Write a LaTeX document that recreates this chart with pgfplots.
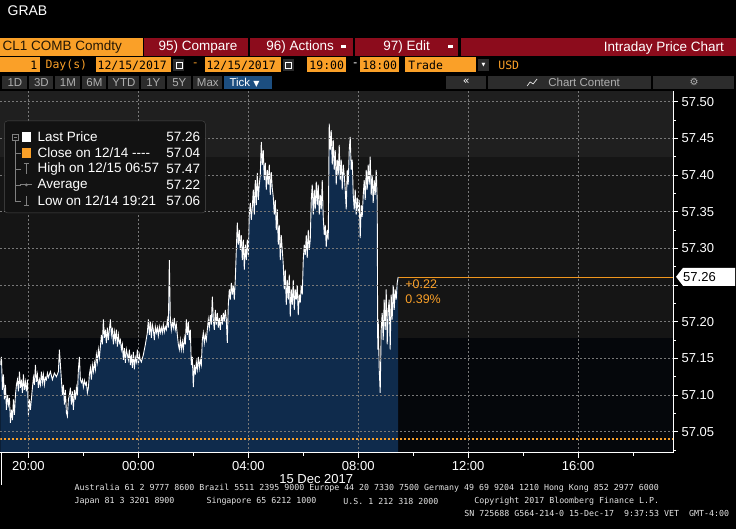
\documentclass[border=0pt]{standalone}
\usepackage{fontspec}
\setmainfont{Liberation Sans}
\newfontfamily\dmono{DejaVu Sans Mono}
\newfontfamily\dsans{DejaVu Sans}
\usepackage{pgfplots}
\usepackage{pgfplotstable}
\pgfplotsset{compat=1.18}
\newcommand\fs[1]{\fontsize{#1}{#1}\selectfont}
\definecolor{bbOrange}{RGB}{250,160,40}
\definecolor{lastOrange}{RGB}{240,150,30}
\definecolor{bbRed}{RGB}{140,12,28}
\definecolor{bbArea}{RGB}{15,43,76}
\definecolor{bandA}{RGB}{31,31,31}
\definecolor{bandB}{RGB}{21,21,21}
\definecolor{bandC}{RGB}{5,7,11}
\definecolor{gridc}{RGB}{120,120,120}
\definecolor{btn}{RGB}{44,44,44}
\definecolor{btntext}{RGB}{175,175,175}
\definecolor{tickblue}{RGB}{28,78,128}

\pgfplotstableread{
h p
-5.018 57.141
-4.982 57.152
-4.945 57.107
-4.909 57.128
-4.873 57.094
-4.836 57.114
-4.800 57.080
-4.763 57.100
-4.727 57.087
-4.691 57.096
-4.655 57.062
-4.618 57.080
-4.582 57.066
-4.545 57.094
-4.509 57.073
-4.473 57.100
-4.436 57.114
-4.400 57.121
-4.364 57.105
-4.327 57.132
-4.291 57.110
-4.255 57.121
-4.218 57.103
-4.182 57.128
-4.145 57.107
-4.109 57.118
-4.073 57.105
-4.036 57.121
-4.000 57.073
-3.964 57.094
-3.927 57.080
-3.855 57.110
-3.818 57.124
-3.782 57.114
-3.745 57.141
-3.709 57.118
-3.673 57.128
-3.636 57.110
-3.600 57.121
-3.564 57.114
-3.527 57.132
-3.491 57.117
-3.455 57.128
-3.418 57.114
-3.382 57.124
-3.345 57.121
-3.309 57.130
-3.273 57.124
-3.200 57.132
-3.127 57.121
-3.055 57.130
-2.982 57.125
-2.909 57.132
-2.873 57.162
-2.836 57.141
-2.800 57.121
-2.764 57.100
-2.727 57.114
-2.691 57.087
-2.655 57.107
-2.618 57.076
-2.582 57.071
-2.545 57.094
-2.509 57.100
-2.473 57.110
-2.436 57.087
-2.400 57.105
-2.364 57.080
-2.327 57.107
-2.291 57.094
-2.255 57.110
-2.218 57.100
-2.182 57.135
-2.145 57.152
-2.109 57.121
-2.073 57.117
-2.036 57.121
-2.000 57.111
-1.964 57.120
-1.927 57.114
-1.891 57.117
-1.855 57.103
-1.818 57.110
-1.782 57.128
-1.745 57.137
-1.709 57.121
-1.673 57.141
-1.636 57.132
-1.600 57.144
-1.564 57.135
-1.527 57.155
-1.491 57.145
-1.455 57.162
-1.418 57.151
-1.382 57.166
-1.345 57.182
-1.309 57.169
-1.273 57.203
-1.236 57.178
-1.200 57.189
-1.164 57.171
-1.127 57.192
-1.091 57.175
-1.055 57.189
-1.018 57.203
-0.982 57.182
-0.945 57.192
-0.909 57.169
-0.873 57.186
-0.836 57.175
-0.800 57.189
-0.764 57.166
-0.727 57.182
-0.691 57.171
-0.655 57.175
-0.618 57.162
-0.582 57.169
-0.545 57.148
-0.509 57.164
-0.473 57.144
-0.436 57.162
-0.400 57.155
-0.364 57.148
-0.327 57.162
-0.291 57.141
-0.255 57.155
-0.218 57.137
-0.182 57.159
-0.145 57.135
-0.109 57.151
-0.073 57.145
-0.036 57.162
0.000 57.141
0.036 57.155
0.073 57.148
0.109 57.145
0.182 57.155
0.255 57.169
0.327 57.185
0.364 57.203
0.400 57.182
0.436 57.200
0.473 57.178
0.509 57.196
0.545 57.189
0.582 57.175
0.618 57.193
0.655 57.185
0.691 57.192
0.727 57.181
0.764 57.193
0.800 57.185
0.836 57.192
0.873 57.185
0.909 57.196
0.945 57.186
0.982 57.193
1.018 57.189
1.055 57.203
1.091 57.192
1.127 57.284
1.164 57.203
1.200 57.189
1.236 57.200
1.273 57.192
1.309 57.205
1.345 57.189
1.382 57.196
1.418 57.182
1.455 57.169
1.491 57.162
1.527 57.175
1.564 57.162
1.600 57.173
1.636 57.162
1.673 57.178
1.709 57.169
1.745 57.203
1.782 57.182
1.818 57.200
1.855 57.175
1.891 57.189
1.927 57.141
1.964 57.152
2.000 57.111
2.036 57.141
2.073 57.128
2.109 57.145
2.145 57.135
2.182 57.152
2.218 57.137
2.255 57.148
2.291 57.141
2.327 57.175
2.364 57.185
2.400 57.171
2.436 57.182
2.473 57.175
2.509 57.189
2.545 57.203
2.582 57.192
2.618 57.209
2.655 57.196
2.691 57.234
2.727 57.203
2.764 57.189
2.800 57.216
2.836 57.196
2.873 57.212
2.909 57.192
2.945 57.205
2.982 57.189
3.018 57.209
3.055 57.196
3.091 57.212
3.127 57.200
3.164 57.216
3.200 57.203
3.236 57.171
3.273 57.223
3.309 57.244
3.345 57.230
3.382 57.253
3.418 57.237
3.455 57.250
3.491 57.230
3.527 57.257
3.564 57.298
3.600 57.335
3.636 57.305
3.673 57.325
3.709 57.298
3.745 57.318
3.782 57.284
3.818 57.312
3.855 57.271
3.891 57.305
3.927 57.284
3.964 57.312
4.000 57.291
4.036 57.346
4.073 57.362
4.109 57.339
4.145 57.355
4.182 57.380
4.218 57.346
4.255 57.393
4.291 57.359
4.327 57.403
4.364 57.366
4.400 57.387
4.436 57.400
4.473 57.445
4.509 57.414
4.545 57.434
4.582 57.393
4.618 57.417
4.655 57.380
4.691 57.407
4.727 57.387
4.764 57.414
4.800 57.373
4.836 57.404
4.873 57.382
4.909 57.370
4.945 57.346
4.982 57.366
5.018 57.325
5.055 57.353
5.091 57.305
5.127 57.332
5.164 57.284
5.200 57.318
5.236 57.298
5.273 57.278
5.309 57.244
5.345 57.271
5.382 57.223
5.418 57.257
5.455 57.230
5.491 57.264
5.527 57.207
5.564 57.244
5.600 57.223
5.636 57.257
5.673 57.216
5.709 57.244
5.745 57.230
5.782 57.250
5.818 57.209
5.855 57.237
5.891 57.226
5.927 57.250
5.964 57.237
6.000 57.284
6.036 57.305
6.073 57.291
6.109 57.318
6.145 57.287
6.182 57.325
6.218 57.298
6.255 57.312
6.291 57.366
6.327 57.387
6.364 57.346
6.400 57.380
6.436 57.353
6.473 57.391
6.509 57.359
6.545 57.387
6.582 57.346
6.618 57.373
6.655 57.353
6.691 57.393
6.727 57.343
6.764 57.318
6.800 57.332
6.836 57.302
6.873 57.325
6.909 57.312
6.945 57.470
6.982 57.434
7.018 57.461
7.055 57.414
7.091 57.448
7.127 57.407
7.164 57.434
7.200 57.387
7.236 57.421
7.273 57.400
7.309 57.441
7.345 57.393
7.382 57.421
7.418 57.380
7.455 57.414
7.491 57.400
7.527 57.380
7.564 57.353
7.600 57.407
7.636 57.387
7.673 57.434
7.709 57.452
7.745 57.407
7.782 57.421
7.818 57.373
7.855 57.353
7.891 57.380
7.927 57.346
7.964 57.369
8.000 57.350
8.036 57.366
8.073 57.314
8.109 57.359
8.145 57.343
8.182 57.373
8.218 57.393
8.255 57.366
8.291 57.407
8.327 57.380
8.364 57.414
8.400 57.387
8.436 57.425
8.473 57.373
8.509 57.400
8.545 57.362
8.582 57.393
8.618 57.373
8.655 57.407
8.691 57.366
8.710 57.162
8.727 57.203
8.764 57.135
8.800 57.103
8.836 57.189
8.873 57.212
8.909 57.175
8.945 57.230
8.982 57.189
9.018 57.244
9.055 57.169
9.091 57.216
9.127 57.230
9.164 57.162
9.200 57.237
9.236 57.203
9.273 57.250
9.309 57.216
9.345 57.244
9.382 57.230
9.418 57.253
9.455 57.261
}\pricedata

\begin{document}
\begin{tikzpicture}[x=1pt,y=1pt]
\fill[black] (0,0) rectangle (736,529);
% background bands of the plot area (pixel rows 91-157, 157-338, 338-453)
\begin{scope}[yshift=529pt, y=-1pt]
\fill[bandA] (0,91) rectangle (673,157);
\fill[bandB] (0,157) rectangle (673,338);
\fill[bandC] (0,338) rectangle (673,453);
\end{scope}

\begin{axis}[
  at={(0pt,76pt)}, anchor=south west, scale only axis,
  width=673pt, height=362pt,
  xmin=-5.018, xmax=19.455, ymin=57.0214, ymax=57.5146,
  axis x line*=bottom, axis y line*=right,
  axis line style={white, line width=0.9pt, -},
  tick align=outside,
  major tick length=5pt, minor tick length=3pt,
  tick style={white, line width=0.7pt},
  xtick={-4,0,4,8,12,16}, xticklabels={20:00,00:00,04:00,08:00,12:00,16:00},
  minor xtick={-2,2,6,10,14,18},
  ytick={57.05,57.1,57.15,57.2,57.25,57.3,57.35,57.4,57.45,57.5},
  yticklabels={57.05,57.10,57.15,57.20,{},57.30,57.35,57.40,57.45,57.50},
  minor ytick={57.025,57.075,57.125,57.175,57.225,57.275,57.325,57.375,57.425,57.475},
  grid=major,
  major grid style={draw=gridc, dash pattern=on 2pt off 2pt, line width=0.5pt},
  ticklabel style={text=white, font=\fs{13}},
  axis on top,
]
\addplot[fill=bbArea, draw=none] table {\pricedata} -- (axis cs:9.455,57.0) -- (axis cs:-5.018,57.0) -- cycle;
\addplot[white, line width=0.9pt] table {\pricedata};
\addplot[bbOrange, line width=2pt, dash pattern=on 2pt off 2pt] coordinates {(-5.018,57.04) (19.455,57.04)};
\addplot[color=lastOrange, solid, line width=1.2pt, mark=none] coordinates {(9.48,57.26) (19.455,57.26)};
\end{axis}

\begin{scope}[yshift=529pt, y=-1pt]
% header
\node[anchor=west, text=white, font=\fs{14}, inner sep=0] at (7,11) {GRAB};
\fill[bbOrange] (0,38) rectangle (143,56);
\fill[bbRed] (144,38) rectangle (248,56);
\fill[bbRed] (250,38) rectangle (353,56);
\fill[bbRed] (355,38) rectangle (458,56);
\fill[bbRed] (461,38) rectangle (736,56);
\node[anchor=west, text=black!85!bbOrange, font=\fs{13.5}, inner sep=0] at (2,47.5) {CL1 COMB Comdty};
\node[anchor=west, text=white, font=\fs{13.5}, inner sep=0] at (158,47) {95) Compare};
\node[anchor=west, text=white, font=\fs{13.5}, inner sep=0] at (266,47) {96) Actions};
\fill[white] (341,45.5) rectangle (346,48);
\node[anchor=west, text=white, font=\fs{13.5}, inner sep=0] at (383,47) {97) Edit};
\fill[white] (448,45.5) rectangle (453,48);
\node[anchor=east, text=white, font=\fs{13.5}, inner sep=0] at (724,48) {Intraday Price Chart};
% row 2
\fill[bbOrange] (0,57) rectangle (40,72);
\node[anchor=east, text=black, font=\dmono\fs{11.5}, inner sep=0] at (37,65.5) {1};
\node[anchor=west, text=bbOrange, font=\dmono\fs{11.5}, inner sep=0] at (45,65.5) {Day(s)};
\fill[bbOrange] (96,57) rectangle (171,72);
\node[anchor=west, text=black, font=\dmono\fs{11.5}, inner sep=0] at (97,65.5) {12/15/2017};
\fill[btn] (173,59) rectangle (184,71);
\draw[white, line width=0.6pt] (175.5,62) rectangle (181.5,68.5);
\node[text=bbOrange, font=\dmono\fs{11.5}, inner sep=0] at (195,65) {-};
\fill[bbOrange] (205,57) rectangle (281,72);
\node[anchor=west, text=black, font=\dmono\fs{11.5}, inner sep=0] at (206,65.5) {12/15/2017};
\fill[btn] (283,59) rectangle (294,71);
\draw[white, line width=0.6pt] (285.5,62) rectangle (291.5,68.5);
\fill[bbOrange] (307,57) rectangle (346,72);
\node[anchor=west, text=black, font=\dmono\fs{11.5}, inner sep=0] at (309,65.5) {19:00};
\node[text=white, font=\dmono\fs{11.5}, inner sep=0] at (355,65) {-};
\fill[bbOrange] (360,57) rectangle (399,72);
\node[anchor=west, text=black, font=\dmono\fs{11.5}, inner sep=0] at (362,65.5) {18:00};
\fill[bbOrange] (405,57) rectangle (476,72);
\node[anchor=west, text=black, font=\dmono\fs{11.5}, inner sep=0] at (408,65.5) {Trade};
\fill[btn] (478,59) rectangle (489,71);
\node[text=white, font=\dsans\fs{5}, inner sep=0] at (483.5,65) {▼};
\node[anchor=west, text=bbOrange, font=\dmono\fs{11.5}, inner sep=0] at (498,65.5) {USD};
% row 3
\foreach \a/\b/\t in {2/27/1D,29/53/3D,55/80/1M,82/106/6M,108/139/YTD,141/165/1Y,167/191/5Y,193/222/Max}{
  \fill[btn] (\a,76) rectangle (\b,89);
  \node[text=btntext, font=\fs{11.5}, inner sep=0] at ({(\a+\b)/2},82.5) {\t};
}
\fill[tickblue] (224,76) rectangle (272,89);
\node[anchor=west, text=white, font=\fs{11.5}, inner sep=0] at (229,82.5) {Tick \dsans\fs{8}▼};
\fill[btn] (446,76) rectangle (486,89);
\node[text=white, font=\dsans\fs{11}, inner sep=0] at (466,82) {«};
\fill[btn] (488,76) rectangle (651,89);
\draw[white, line width=0.6pt] (527,86) -- (530,82) -- (533,84) -- (537,79);
\node[text=btntext, font=\fs{11.5}, inner sep=0] at (584,82.5) {Chart Content};
\fill[btn] (653,76) rectangle (734,89);
\node[text=btntext, font=\dsans\fs{10}, inner sep=0] at (694,82.5) {⚙};
% legend
\fill[black!93!white, draw=black!70!white, rounded corners=3pt] (4,121) rectangle (205,213);
\draw[gray, line width=0.6pt] (12,134) rectangle (18,140);
\draw[gray, line width=0.6pt] (13.5,137) -- (16.5,137);
\draw[gray, line width=0.6pt] (15,140) -- (15,201) (15,153) -- (21,153) (15,169) -- (21,169) (15,185) -- (21,185) (15,201) -- (21,201);
\fill[white] (22,132) rectangle (31,142);
\fill[bbOrange] (22,148) rectangle (31,158);
\draw[gray, line width=0.8pt] (23.5,164) -- (28.5,164) (26,164) -- (26,174);
\draw[gray, line width=0.8pt] (20,185) -- (32,185);
\fill[gray] (26,185) circle (1.6);
\draw[gray, line width=0.8pt] (23.5,206) -- (28.5,206) (26,196) -- (26,206);
\foreach \yy/\l/\v in {137/{Last Price}/57.26,153/{Close on 12/14 -{}-{}-{}-}/57.04,169/{High on 12/15 06:57}/57.47,185/{Average}/57.22,201/{Low on 12/14 19:21}/57.06}{
  \node[anchor=west, text=white, font=\fs{13.5}, inner sep=0] at (37,\yy) {\l};
  \node[anchor=east, text=white, font=\fs{13.5}, inner sep=0] at (200,\yy) {\v};
}
% change labels
\node[anchor=west, text=bbOrange, font=\fs{12.5}, inner sep=0] at (405,284) {+0.22};
\node[anchor=west, text=bbOrange, font=\fs{12.5}, inner sep=0] at (405,299) {0.39\%};
% last price tag
\fill[white] (676,277) -- (683,268) -- (735,268) -- (735,286) -- (683,286) -- cycle;
\node[anchor=west, text=black, font=\fs{13}, inner sep=0] at (683,277.5) {57.26};
% footer
\draw[white, line width=0.8pt] (0.5,453) -- (0.5,485);
\node[text=white, font=\fs{13}, inner sep=0] at (316,479) {15 Dec 2017};
\node[anchor=west, text=white!90!black, font=\dmono\fs{8.3}, inner sep=0] at (74,489) {Australia 61 2 9777 8600 Brazil 5511 2395 9000 Europe 44 20 7330 7500 Germany 49 69 9204 1210 Hong Kong 852 2977 6000};
\node[anchor=west, text=white!90!black, font=\dmono\fs{8.3}, inner sep=0] at (74,502) {Japan 81 3 3201 8900};
\node[anchor=west, text=white!90!black, font=\dmono\fs{8.3}, inner sep=0] at (206,502) {Singapore 65 6212 1000};
\node[anchor=west, text=white!90!black, font=\dmono\fs{8.3}, inner sep=0] at (343,502) {U.S. 1 212 318 2000};
\node[anchor=west, text=white!90!black, font=\dmono\fs{8.3}, inner sep=0] at (474,502) {Copyright 2017 Bloomberg Finance L.P.};
\node[anchor=west, text=white!90!black, font=\dmono\fs{8.3}, inner sep=0] at (464,514) {SN 725688 G564-214-0 15-Dec-17\ \ 9:37:53 VET\ \ GMT-4:00};
\end{scope}
\end{tikzpicture}
\end{document}
